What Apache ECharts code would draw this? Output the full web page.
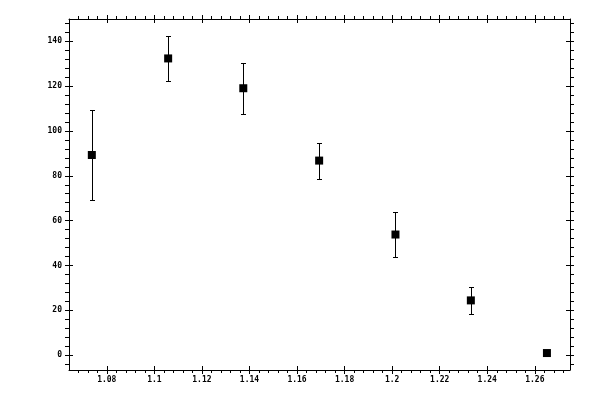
<!DOCTYPE html>
<html>
<head>
<meta charset="utf-8">
<script src="https://cdn.jsdelivr.net/npm/echarts@6/dist/echarts.min.js"></script>
<style>
html,body{margin:0;padding:0;background:#fff;}
#chart{width:600px;height:400px;}
</style>
</head>
<body>
<div id="chart"></div>
<script>
// ---- data ----
const xValues = [1.0737, 1.1058, 1.1374, 1.1693, 1.2014, 1.2331, 1.2651];
const yValues = [89.3, 132.4, 119.1, 86.8, 53.8, 24.4, 0.9];
const yErrors = [20.2, 10.1, 11.3, 8.0, 10.2, 6.2, 0.45];

// ---- tick labels ----
const xMajorTicks = [1.08, 1.1, 1.12, 1.14, 1.16, 1.18, 1.2, 1.22, 1.24, 1.26];
const xMinorTicks = [1.068, 1.072, 1.076, 1.08, 1.084, 1.088, 1.092, 1.096, 1.1, 1.104, 1.108, 1.112, 1.116, 1.12,
  1.124, 1.128, 1.132, 1.136, 1.14, 1.144, 1.148, 1.152, 1.156, 1.16, 1.164, 1.168, 1.172, 1.176, 1.18,
  1.184, 1.188, 1.192, 1.196, 1.2, 1.204, 1.208, 1.212, 1.216, 1.22, 1.224, 1.228, 1.232, 1.236, 1.24,
  1.244, 1.248, 1.252, 1.256, 1.26, 1.264, 1.268, 1.272];
const yMajorTicks = [0, 20, 40, 60, 80, 100, 120, 140];
const yMinorTicks = [-4, 0, 4, 8, 12, 16, 20, 24, 28, 32, 36, 40, 44, 48, 52, 56, 60, 64, 68, 72, 76, 80,
  84, 88, 92, 96, 100, 104, 108, 112, 116, 120, 124, 128, 132, 136, 140, 144, 148];

const xMin = 1.0641, xMax = 1.2748;
const yMin = -6.67, yMax = 150;

const pointData = xValues.map((x, i) => [x, yValues[i]]);
const errorData = xValues.map((x, i) => [x, yValues[i] - yErrors[i], yValues[i] + yErrors[i]]);

const labelFont = {color: '#000', fontFamily: 'DejaVu Sans Mono', fontWeight: 'bold', fontSize: 8};
const lineStyle = {color: '#000', width: 1};

function xAxisDef(position, withLabels) {
  return [
    {
      type: 'value', position: position, min: xMin, max: xMax,
      axisLine: {show: true, onZero: false, lineStyle: lineStyle},
      axisTick: {show: true, length: 3, customValues: xMinorTicks, lineStyle: lineStyle},
      axisLabel: Object.assign({show: withLabels, margin: 6, customValues: xMajorTicks,
        formatter: v => String(+v.toFixed(3))}, labelFont),
      splitLine: {show: false}
    },
    {
      type: 'value', position: position, min: xMin, max: xMax, offset: -4,
      axisLine: {show: false, onZero: false},
      axisTick: {show: true, length: 8, customValues: xMajorTicks, lineStyle: lineStyle},
      axisLabel: {show: false},
      splitLine: {show: false}
    }
  ];
}
function yAxisDef(position, withLabels) {
  return [
    {
      type: 'value', position: position, min: yMin, max: yMax,
      axisLine: {show: true, onZero: false, lineStyle: lineStyle},
      axisTick: {show: true, length: 4, customValues: yMinorTicks, lineStyle: lineStyle},
      axisLabel: Object.assign({show: withLabels, margin: 7, customValues: yMajorTicks}, labelFont),
      splitLine: {show: false}
    },
    {
      type: 'value', position: position, min: yMin, max: yMax, offset: -4,
      axisLine: {show: false, onZero: false},
      axisTick: {show: true, length: 8, customValues: yMajorTicks, lineStyle: lineStyle},
      axisLabel: {show: false},
      splitLine: {show: false}
    }
  ];
}

const chart = echarts.init(document.getElementById('chart'), null, {renderer: 'canvas'});
chart.setOption({
  animation: false,
  backgroundColor: '#fff',
  grid: {left: 69, right: 30, top: 19, bottom: 30, containLabel: false},
  xAxis: [...xAxisDef('bottom', true), ...xAxisDef('top', false)],
  yAxis: [...yAxisDef('left', true), ...yAxisDef('right', false)],
  series: [
    {
      type: 'custom',
      xAxisIndex: 0, yAxisIndex: 0,
      data: errorData,
      z: 2,
      renderItem: function (params, api) {
        const x = api.value(0);
        const pLo = api.coord([x, api.value(1)]);
        const pHi = api.coord([x, api.value(2)]);
        const cx = Math.round(pHi[0]) + 0.5;
        const yt = Math.round(pHi[1]) + 0.5;
        const yb = Math.round(pLo[1]) + 0.5;
        const st = {stroke: '#000', lineWidth: 1};
        return {
          type: 'group',
          children: [
            {type: 'line', shape: {x1: cx, y1: yt, x2: cx, y2: yb}, style: st},
            {type: 'line', shape: {x1: cx - 2.5, y1: yt, x2: cx + 2.5, y2: yt}, style: st},
            {type: 'line', shape: {x1: cx - 2.5, y1: yb, x2: cx + 2.5, y2: yb}, style: st}
          ]
        };
      }
    },
    {
      type: 'scatter',
      xAxisIndex: 0, yAxisIndex: 0,
      data: pointData,
      symbol: 'rect',
      symbolSize: 8,
      itemStyle: {color: '#000', opacity: 1, borderWidth: 0},
      emphasis: {disabled: true},
      z: 3
    }
  ]
});
</script>
</body>
</html>
